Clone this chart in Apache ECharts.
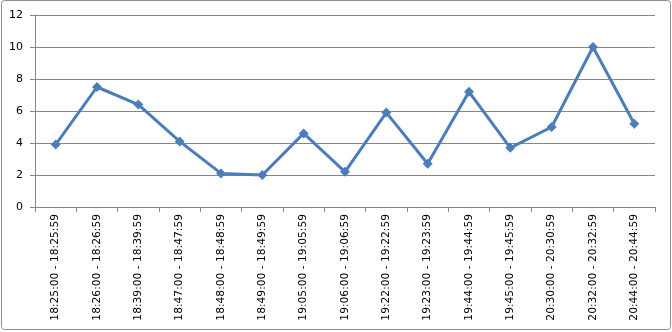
<!DOCTYPE html>
<html><head><meta charset="utf-8">
<script src="https://cdn.jsdelivr.net/npm/echarts@6/dist/echarts.min.js"></script>
<style>html,body{margin:0;padding:0;background:#fff}#c{width:672px;height:332px}</style>
</head><body><div id="c"></div>
<script>
const categories = ["18:25:00 - 18:25:59","18:26:00 - 18:26:59","18:39:00 - 18:39:59","18:47:00 - 18:47:59","18:48:00 - 18:48:59","18:49:00 - 18:49:59","19:05:00 - 19:05:59","19:06:00 - 19:06:59","19:22:00 - 19:22:59","19:23:00 - 19:23:59","19:44:00 - 19:44:59","19:45:00 - 19:45:59","20:30:00 - 20:30:59","20:32:00 - 20:32:59","20:44:00 - 20:44:59"];
const values = [3.9, 7.5, 6.4, 4.1, 2.1, 2.0, 4.6, 2.2, 5.9, 2.7, 7.2, 3.7, 5.0, 10.0, 5.2];
const yMin = 0, yMax = 12, yStep = 2;

const chart = echarts.init(document.getElementById('c'), null, {renderer:'canvas'});
chart.setOption({
  animation:false,
  backgroundColor:'#fff',
  graphic:[{type:'rect', shape:{x:1.5,y:0.5,width:669,height:329,r:3}, style:{fill:'none',stroke:'#8c8c8c',lineWidth:1}, z:-1}],
  grid:{left:35,right:17,top:15,bottom:125},
  xAxis:{type:'category', data:categories, boundaryGap:true,
    axisLine:{lineStyle:{color:'#868686'}},
    axisTick:{show:true, alignWithLabel:false, length:5, lineStyle:{color:'#868686'}},
    axisLabel:{rotate:90, interval:0, fontFamily:'DejaVu Sans', fontSize:10.7, color:'#000', margin:7}},
  yAxis:{type:'value', min:yMin, max:yMax, interval:yStep,
    axisLine:{show:true, lineStyle:{color:'#868686'}},
    axisTick:{show:true, length:5, lineStyle:{color:'#868686'}},
    splitLine:{lineStyle:{color:'#868686'}},
    axisLabel:{fontFamily:'DejaVu Sans', fontSize:11, color:'#000', margin:12}},
  series:[{type:'line', data:values, symbol:'diamond', symbolSize:10,
    lineStyle:{color:'#4a7ebb', width:3}, itemStyle:{color:'#4a7ebb'}}]
});
</script></body></html>
